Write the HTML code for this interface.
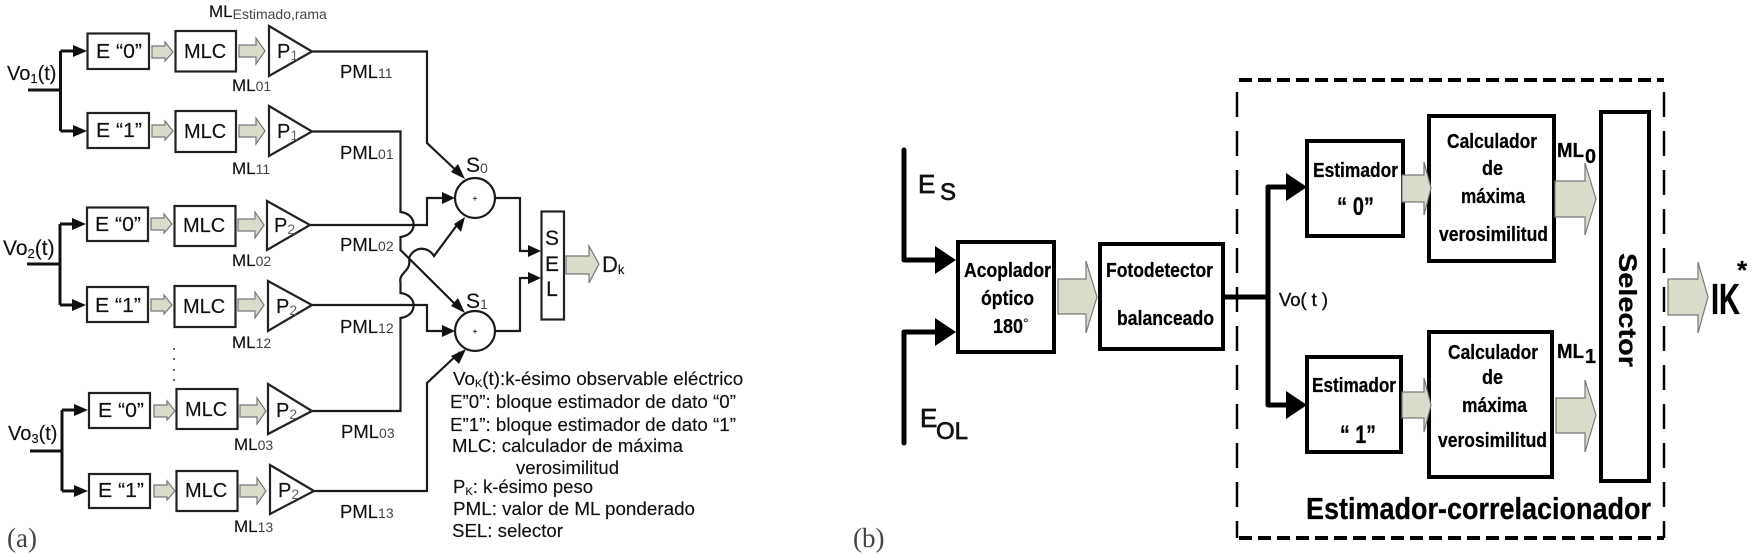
<!DOCTYPE html>
<html><head><meta charset="utf-8"><style>
html,body{margin:0;padding:0;background:#fff;width:1752px;height:554px;overflow:hidden}
svg{display:block;filter:blur(.35px)}
text{font-family:"Liberation Sans",sans-serif;fill:#111;stroke:#111;stroke-width:.15px}
.b{font-weight:bold;fill:#000;stroke:#000;stroke-width:.25px}
.box{fill:#fff;stroke:#222;stroke-width:2.2}
.w{fill:none;stroke:#1a1a1a;stroke-width:2.2}
.t{fill:none;stroke:#111;stroke-width:3}
.ah{fill:#111;stroke:none}
.ba{fill:#dadccb;stroke:#777;stroke-width:1.2}
.B{fill:#fff;stroke:#000;stroke-width:4}
.W{fill:none;stroke:#000;stroke-width:5;stroke-linecap:round;stroke-linejoin:round}
.n{font-size:20px}.m{font-size:17px}.p{font-size:18.5px}.s{font-size:14px;fill:#444;stroke:none}.l{font-size:18px}
.c{font-size:20px}
</style></head><body>
<svg width="1752" height="554" viewBox="0 0 1752 554" xmlns="http://www.w3.org/2000/svg">
<!-- Panel A wires -->
<path class="t" d="M28 90H60.500M60.500 51V131M60.500 51H76M60.500 131H76"/>
<path class="t" d="M27 264H60M60 224V305M60 224H76M60 305H76"/>
<path class="t" d="M30 451H62M62 410V491M62 410H78M62 491H78"/>
<path class="ah" d="M87 51L73 45V57ZM87 131L73 125V137ZM86 224L72 218V230ZM86 305L72 299V311ZM88 410L74 404V416ZM88 491L74 485V497Z"/>
<path class="w" d="M312 51.500H427V143L461 175"/>
<path class="w" d="M312 131.500H400.500V212C418 214 418 235 400.500 237V250L458 307"/>
<path class="w" d="M310 225H427V198H445"/>
<path class="w" d="M312 305H427V331H445"/>
<path class="w" d="M312 411H400.500V318C418 316 418 295 400.500 293V283C398 272 412 272 409 258C414 246 428 246 434 256L460 221"/>
<path class="w" d="M314 491H427V383L460 352"/>
<path class="w" d="M495 198H520V251H530M495 331H520V278H530"/>
<path class="ah" d="M465 179L451 172L458 164ZM455 198L442 192V204ZM465 217L454 224L461 232L465 217ZM465 313L451 306L458 298ZM455 331L442 325V337ZM466 349L451 356L459 364ZM541 251L528 245V257ZM541 278L528 272V284Z"/>
<circle class="w" cx="475" cy="198" r="20"/><circle class="w" cx="475" cy="331" r="20"/>
<text x="475" y="201" font-size="8" text-anchor="middle">+</text><text x="475" y="334" font-size="8" text-anchor="middle">+</text>
<rect class="box" x="541.500" y="211.500" width="22.500" height="108"/>
<path class="ba" d="M566 256H589V246L599 264L589 283V274H566Z"/>
<!-- Panel A boxes -->
<g>
<rect class="box" x="87.500" y="33.500" width="61.500" height="35.500"/><rect class="box" x="175.500" y="31" width="60.500" height="40.500"/>
<rect class="box" x="87.500" y="113" width="61.500" height="35"/><rect class="box" x="175.500" y="111" width="60.500" height="41"/>
<rect class="box" x="87" y="207.500" width="61" height="33.500"/><rect class="box" x="174.500" y="206" width="61" height="40"/>
<rect class="box" x="87" y="287" width="61" height="35"/><rect class="box" x="174.500" y="286" width="61" height="41"/>
<rect class="box" x="89" y="393" width="61" height="35"/><rect class="box" x="176.500" y="389" width="61" height="40"/>
<rect class="box" x="89" y="474" width="61" height="34"/><rect class="box" x="176.500" y="471" width="61" height="40"/>
<path class="box" d="M269 26L312 51.500L269 76ZM269 106L312 131.500L269 156ZM267 201L310 225L267 250ZM268 281L312 305L268 331ZM268 384L312 411L268 434ZM270 465L314 491L270 514Z"/>
<path class="ba" d="M152 46H165V42L173 52L165 61V58H152ZM152 125H165V121L173 131L165 140V137H152ZM151 218H164V214L172 224L164 233V230H151ZM151 299H164V295L172 305L164 314V311H151ZM154 405H167V401L175 411L167 420V417H154ZM154 485H167V481L175 491L167 500V497H154Z"/>
<path class="ba" d="M239 45H256V38L265 51L256 64V57H239ZM239 125H256V118L265 131L256 144V137H239ZM238 219H255V212L264 225L255 238V231H238ZM238 299H255V292L264 305L255 318V311H238ZM240 405H257V398L266 411L257 424V417H240ZM240 485H257V478L266 491L257 504V497H240Z"/>
</g>
<!-- Panel A text -->
<g class="n">
<text class="n" x="96" y="58" textLength="46" lengthAdjust="spacingAndGlyphs">E “0”</text><text class="n" x="184" y="58">MLC</text>
<text class="n" x="96" y="137" textLength="46" lengthAdjust="spacingAndGlyphs">E “1”</text><text class="n" x="184" y="138">MLC</text>
<text class="n" x="95" y="231" textLength="46" lengthAdjust="spacingAndGlyphs">E “0”</text><text class="n" x="183" y="232">MLC</text>
<text class="n" x="95" y="312" textLength="46" lengthAdjust="spacingAndGlyphs">E “1”</text><text class="n" x="183" y="313">MLC</text>
<text class="n" x="98" y="417" textLength="46" lengthAdjust="spacingAndGlyphs">E “0”</text><text class="n" x="185" y="416">MLC</text>
<text class="n" x="98" y="497" textLength="46" lengthAdjust="spacingAndGlyphs">E “1”</text><text class="n" x="185" y="497">MLC</text>
<text class="n" x="277" y="58">P<tspan style="font-size:14px;fill:#666;stroke:none" dy="2">1</tspan></text>
<text class="n" x="277" y="138">P<tspan style="font-size:14px;fill:#666;stroke:none" dy="2">1</tspan></text>
<text class="n" x="274" y="232">P<tspan style="font-size:14px;fill:#666;stroke:none" dy="2">2</tspan></text>
<text class="n" x="276" y="313">P<tspan style="font-size:14px;fill:#666;stroke:none" dy="2">2</tspan></text>
<text class="n" x="276" y="417">P<tspan style="font-size:14px;fill:#666;stroke:none" dy="2">2</tspan></text>
<text class="n" x="278" y="497">P<tspan style="font-size:14px;fill:#666;stroke:none" dy="2">2</tspan></text>
<text class="n" x="7" y="80">Vo<tspan style="font-size:13px" dy="3">1</tspan><tspan dy="-3">(t)</tspan></text>
<text class="n" x="3" y="255" style="font-size:21px">Vo<tspan style="font-size:13px" dy="3">2</tspan><tspan dy="-3">(t)</tspan></text>
<text class="n" x="8" y="440">Vo<tspan style="font-size:13px" dy="3">3</tspan><tspan dy="-3">(t)</tspan></text>
<text class="m" x="209" y="17" style="font-size:17px">ML<tspan style="font-size:14px;fill:#444;stroke:none" dy="2">Estimado,rama</tspan></text>
<text class="m" x="232" y="91">ML<tspan class="s" dy="0">01</tspan></text>
<text class="m" x="232" y="174">ML<tspan class="s" dy="0">11</tspan></text>
<text class="m" x="232" y="266">ML<tspan class="s" dy="0">02</tspan></text>
<text class="m" x="232" y="348">ML<tspan class="s" dy="0">12</tspan></text>
<text class="m" x="234" y="450">ML<tspan class="s" dy="0">03</tspan></text>
<text class="m" x="234" y="532">ML<tspan class="s" dy="0">13</tspan></text>
<text class="p" x="340" y="78">PML<tspan class="s" dy="0">11</tspan></text>
<text class="p" x="340" y="159">PML<tspan class="s" dy="0">01</tspan></text>
<text class="p" x="340" y="251">PML<tspan class="s" dy="0">02</tspan></text>
<text class="p" x="340" y="333">PML<tspan class="s" dy="0">12</tspan></text>
<text class="p" x="341" y="438">PML<tspan class="s" dy="0">03</tspan></text>
<text class="p" x="340" y="518">PML<tspan class="s" dy="0">13</tspan></text>
<text class="n" x="466" y="172" style="font-size:21px">S<tspan class="s" dy="1">0</tspan></text>
<text class="n" x="466" y="308" style="font-size:21px">S<tspan class="s" dy="1">1</tspan></text>
<text class="n" x="552" y="245" text-anchor="middle" style="font-size:21px">S</text><text class="n" x="552" y="271" text-anchor="middle" style="font-size:21px">E</text><text class="n" x="552" y="296" text-anchor="middle" style="font-size:21px">L</text>
<text class="n" x="602" y="272" style="font-size:22px">D<tspan style="font-size:13px" dy="2">k</tspan></text>
</g>
<g fill="#333"><circle cx="174" cy="349" r="1"/><circle cx="174" cy="359" r="1"/><circle cx="174" cy="370" r="1"/><circle cx="174" cy="380" r="1"/></g>
<!-- Legend -->
<text class="l" x="453" y="385" style="font-size:18.800px">Vo<tspan style="font-size:11px" dy="2">K</tspan><tspan dy="-2">(t):k-ésimo observable eléctrico</tspan></text>
<text class="l" x="450" y="408" textLength="286" lengthAdjust="spacingAndGlyphs">E”0”: bloque estimador de dato “0”</text>
<text class="l" x="450" y="431" textLength="286" lengthAdjust="spacingAndGlyphs">E”1”: bloque estimador de dato “1”</text>
<text class="l" x="452" y="452" textLength="231" lengthAdjust="spacingAndGlyphs">MLC: calculador de máxima</text>
<text class="l" x="516" y="474" textLength="103" lengthAdjust="spacingAndGlyphs">verosimilitud</text>
<text class="l" x="453" y="493" style="font-size:18.500px">P<tspan style="font-size:11px" dy="2">K</tspan><tspan dy="-2">: k-ésimo peso</tspan></text>
<text class="l" x="453" y="515" textLength="242" lengthAdjust="spacingAndGlyphs">PML: valor de ML ponderado</text>
<text class="l" x="452" y="537" textLength="111" lengthAdjust="spacingAndGlyphs">SEL: selector</text>
<text x="7" y="547" style="font-family:'Liberation Serif',serif;font-size:27px;fill:#444;stroke:none">(a)</text>
<text x="853" y="547" style="font-family:'Liberation Serif',serif;font-size:27px;fill:#444;stroke:none">(b)</text>
<!-- Panel B -->
<path class="W" d="M904 150V260H940M904 443V332H940M1223 297H1268M1268 405V187H1290M1268 405H1290"/>
<path d="M956 260L935 246V274ZM956 332L935 318V346ZM1307 187L1286 173V201ZM1307 405L1286 391V419Z" fill="#000"/>
<rect class="B" x="958" y="242" width="96" height="110"/>
<rect class="B" x="1100" y="244" width="123" height="105"/>
<rect class="B" x="1307" y="141" width="96" height="95"/>
<rect class="B" x="1429" y="116" width="125" height="145"/>
<rect class="B" x="1307" y="357" width="94" height="95"/>
<rect class="B" x="1429" y="332" width="123" height="145"/>
<rect class="B" x="1601" y="112" width="48" height="369"/>
<path class="ba" d="M1058 279H1086V261L1097 297L1086 333V314H1058Z"/>
<path class="ba" d="M1402 175H1424V162L1431 188L1424 215V202H1402Z"/>
<path class="ba" d="M1402 392H1424V378L1431 405L1424 432V418H1402Z"/>
<path class="ba" d="M1555 181H1585V163L1596 199L1585 235V217H1555Z"/>
<path class="ba" d="M1556 398H1585V380L1596 415L1585 452V433H1556Z"/>
<!-- dashed box -->
<path fill="none" stroke="#000" stroke-width="4" stroke-dasharray="13 6" d="M1239 80H1664M1239 538H1664"/>
<path fill="none" stroke="#000" stroke-width="2.500" stroke-dasharray="25 14" d="M1237 80V538M1664 80V538" stroke-dashoffset="-12"/>
<path class="ba" d="M1668 279H1698V262L1708 297L1698 333V315H1668Z"/>
<!-- Panel B text -->
<text x="918" y="193" font-size="26" style="stroke-width:.7px">E</text>
<text x="940" y="200" font-size="24" style="stroke-width:.7px">S</text>
<text x="920" y="427" font-size="26" style="stroke-width:.7px">E</text>
<text x="936" y="439" font-size="24" style="stroke-width:.7px">OL</text>
<text class="b c" x="964" y="277" textLength="87" lengthAdjust="spacingAndGlyphs">Acoplador</text>
<text class="b c" x="981" y="305" textLength="53" lengthAdjust="spacingAndGlyphs">óptico</text>
<text class="b c" x="993" y="333" textLength="30" lengthAdjust="spacingAndGlyphs">180</text>
<text x="1023" y="328" font-size="14">°</text>
<text class="b c" x="1106" y="277" textLength="107" lengthAdjust="spacingAndGlyphs">Fotodetector</text>
<text class="b c" x="1117" y="325" textLength="97" lengthAdjust="spacingAndGlyphs">balanceado</text>
<text class="b c" x="1313" y="177" textLength="85" lengthAdjust="spacingAndGlyphs">Estimador</text>
<text class="b" x="1337" y="215" font-size="25" textLength="37" lengthAdjust="spacingAndGlyphs">“ 0”</text>
<text class="b c" x="1447" y="148" textLength="90" lengthAdjust="spacingAndGlyphs">Calculador</text>
<text class="b c" x="1482" y="175" textLength="21" lengthAdjust="spacingAndGlyphs">de</text>
<text class="b c" x="1461" y="203" textLength="64" lengthAdjust="spacingAndGlyphs">máxima</text>
<text class="b c" x="1439" y="241" textLength="109" lengthAdjust="spacingAndGlyphs">verosimilitud</text>
<text class="b" x="1557" y="157" font-size="20" textLength="27" lengthAdjust="spacingAndGlyphs">ML</text>
<text class="b" x="1585" y="163" font-size="20" textLength="11" lengthAdjust="spacingAndGlyphs">0</text>
<text x="1279" y="306" font-size="18" textLength="49" lengthAdjust="spacingAndGlyphs" style="stroke-width:.4px">Vo( t )</text>
<text class="b c" x="1312" y="392" textLength="84" lengthAdjust="spacingAndGlyphs">Estimador</text>
<text class="b" x="1340" y="443" font-size="25" textLength="36" lengthAdjust="spacingAndGlyphs">“ 1”</text>
<text class="b c" x="1448" y="359" textLength="90" lengthAdjust="spacingAndGlyphs">Calculador</text>
<text class="b c" x="1482" y="384" textLength="21" lengthAdjust="spacingAndGlyphs">de</text>
<text class="b c" x="1462" y="412" textLength="65" lengthAdjust="spacingAndGlyphs">máxima</text>
<text class="b c" x="1438" y="447" textLength="109" lengthAdjust="spacingAndGlyphs">verosimilitud</text>
<text class="b" x="1557" y="358" font-size="20" textLength="27" lengthAdjust="spacingAndGlyphs">ML</text>
<text class="b" x="1585" y="363" font-size="20" textLength="11" lengthAdjust="spacingAndGlyphs">1</text>
<text class="b" transform="translate(1619,253) rotate(90)" font-size="25" textLength="114" lengthAdjust="spacingAndGlyphs">Selector</text>
<text class="b" x="1711" y="314" font-size="44" textLength="29" lengthAdjust="spacingAndGlyphs">IK</text>
<text class="b" x="1737" y="279" font-size="26">*</text>
<text class="b" x="1306" y="519" font-size="31" textLength="345" lengthAdjust="spacingAndGlyphs">Estimador-correlacionador</text>
</svg>
</body></html>
